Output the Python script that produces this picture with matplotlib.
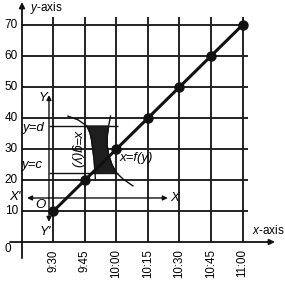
import matplotlib.pyplot as plt
import numpy as np

plt.rcParams['font.family'] = ['Liberation Sans', 'DejaVu Sans']
plt.rcParams['mathtext.fontset'] = 'custom'
plt.rcParams['mathtext.rm'] = 'Liberation Sans'
plt.rcParams['mathtext.it'] = 'Liberation Sans:italic'

# data
times = ['9:30', '9:45', '10:00', '10:15', '10:30', '10:45', '11:00']
values = [10, 20, 30, 40, 50, 60, 70]
y_ticks = [10, 20, 30, 40, 50, 60, 70]

# the two boundary curves of the shaded strip (x, y in chart units)
left_x = [1.46, 1.78, 2.06, 2.16, 2.21, 2.25, 2.29, 2.32, 2.33]
left_y = [40.6, 39.4, 37.4, 35.2, 32.9, 29.7, 26.5, 22.3, 20.0]
right_x = [2.81, 2.75, 2.71, 2.70, 2.75, 2.86, 3.00, 3.21, 3.52]
right_y = [40.6, 37.4, 34.5, 31.3, 28.1, 24.8, 22.3, 20.3, 18.1]
y_c = 22.3
y_d = 37.4

fig = plt.figure(figsize=(2.85, 2.82), dpi=100)
ax = fig.add_axes([0, 0, 1, 1])
ax.set_xlim(-0.698, 8.349)
ax.set_ylim(-12.9, 78.06)
ax.axis('off')

x = np.arange(1, len(times) + 1)
ink = '#111111'

# grid
ax.hlines(y_ticks, 0, 7.17, color='#222222', lw=1.4)
ax.vlines(x, 0, 72.6, color='#222222', lw=1.4)

# main axes with arrows
arr = dict(arrowstyle='-|>', color=ink, lw=1.3, mutation_scale=8, shrinkA=0, shrinkB=0)
ax.annotate('', xy=(0, 77.4), xytext=(0, -5.2), arrowprops=arr)
ax.annotate('', xy=(8.03, 0), xytext=(-0.38, 0), arrowprops=arr)
ax.text(0.25, 75.5, '$y$-axis', fontsize=8.5, ha='left', va='center')
ax.text(7.3, 3.8, '$x$-axis', fontsize=8.5, ha='left', va='center')

# tick labels
for yv in y_ticks:
    ax.text(-0.13, yv, str(yv), fontsize=8.5, ha='right', va='center')
ax.text(-0.46, -2.3, '0', fontsize=8.5, ha='center', va='center')
for xi, t in zip(x, times):
    ax.text(xi, -2.3, t, fontsize=8.3, rotation=90, ha='center', va='top')

# data line
ax.plot(x, values, color=ink, lw=2.2, marker='o', markersize=6.5, zorder=5)

# inset: shaded strip between x=g(y) and x=f(y)
lx = np.array(left_x)
ly = np.array(left_y)
rx = np.array(right_x)
ry = np.array(right_y)
lm = (ly <= y_d) & (ly >= y_c)
rm = (ry <= y_d) & (ry >= y_c)
poly_x = np.concatenate([lx[lm], rx[rm][::-1]])
poly_y = np.concatenate([ly[lm], ry[rm][::-1]])
ax.fill(poly_x, poly_y, color='#1e1e1e', zorder=3)
ax.plot(left_x, left_y, color=ink, lw=1.0, zorder=4)
ax.plot(right_x, right_y, color=ink, lw=1.0, zorder=4)

# local axes
ax.hlines([y_d, y_c], 0.857, 3.05, color=ink, lw=1.0)
arr2 = dict(arrowstyle='-|>', color=ink, lw=1.0, mutation_scale=7, shrinkA=0, shrinkB=0)
ax.annotate('', xy=(0.16, 14.2), xytext=(0.857, 14.2), arrowprops=arr2)
ax.annotate('', xy=(4.63, 14.2), xytext=(0.857, 14.2), arrowprops=arr2)
ax.annotate('', xy=(0.857, 47.4), xytext=(0.857, 14.2), arrowprops=arr2)
ax.annotate('', xy=(0.857, 6.5), xytext=(0.857, 14.2), arrowprops=arr2)

it = dict(fontsize=9.5, style='italic')
ax.text(0.67, 46.5, 'Y', ha='center', va='center', **it)
ax.text(0.75, 3.2, "Y'", ha='center', va='center', **it)
ax.text(-0.22, 14.4, "X'", ha='center', va='center', **it)
ax.text(4.7, 14.2, 'X', ha='left', va='center', **it)
ax.text(0.57, 12.0, 'O', ha='center', va='center', **it)
ax.text(0.36, 36.9, 'y=d', ha='center', va='center', **it)
ax.text(0.33, 24.8, 'y=c', ha='center', va='center', **it)
ax.text(3.1, 27.1, 'x=f(y)', ha='left', va='center', **it)
ax.text(1.75, 30.3, 'x=g(y)', ha='center', va='center', rotation=270, **it)

fig.savefig('out.png', dpi=100)
